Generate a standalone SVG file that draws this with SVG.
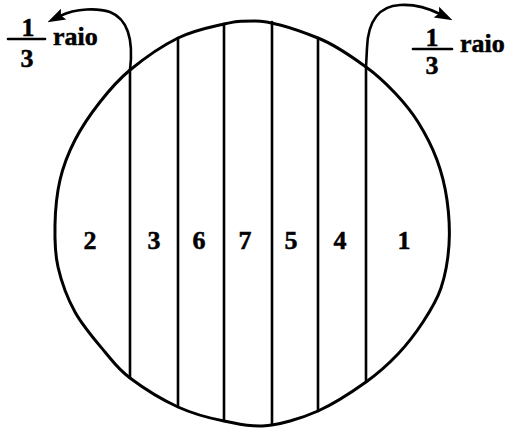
<svg xmlns="http://www.w3.org/2000/svg" width="505" height="428" viewBox="0 0 505 428">
<style>
.ln{fill:none;stroke:#000;stroke-width:2.6;stroke-linecap:round;stroke-linejoin:round}
.ol{fill:none;stroke:#000;stroke-width:3;stroke-linejoin:round}
.t{font-family:"Liberation Serif","Times New Roman",serif;font-weight:bold;font-size:26px;fill:#000;stroke:#000;stroke-width:0.5}
.c{text-anchor:middle}
</style>
<defs>
<marker id="ah" viewBox="0 0 18 14" markerWidth="18" markerHeight="14" refX="4" refY="7" orient="auto" markerUnits="userSpaceOnUse">
<path d="M0,1 L18,7 L0,13 L3,7 z" fill="#000"/>
</marker>
</defs>
<rect width="505" height="428" fill="#fff"/>
<g id="outline">
<path class="ol" d="M255,21 C271,21 298.8,30.3 318,38 C337.2,45.7 353.2,57.8 366,67 C378.8,76.2 386.3,83.8 395,93 C403.7,102.2 411,110.8 418,122 C425,133.2 432.2,147 437,160 C441.8,173 445,185.8 447,200 C449,214.2 450,230.3 449,245 C448,259.7 445.3,275.2 441,288 C436.7,300.8 430.2,311 423,322 C415.8,333 407.5,344 398,354 C388.5,364 379.3,372.5 366,382 C352.7,391.5 334,403.8 318,411 C302,418.2 278,425.5 262,426 C246,426.5 239.3,424 224,421 C208.7,418 193.7,414.2 178,407 C162.3,399.8 142.2,387.2 130,378 C117.8,368.8 114.2,363 105,352 C95.8,341 82.8,326.2 75,312 C67.2,297.8 61.3,281.5 58,267 C54.7,252.5 54.7,239.5 55,225 C55.3,210.5 56.7,194.2 60,180 C63.3,165.8 68.3,153 75,140 C81.7,127 90.8,113.7 100,102 C109.2,90.3 117,80.7 130,70 C143,59.3 162.3,45.7 178,38 C193.7,30.3 211.8,26.8 224,24 C236.2,21.2 239,21 255,21 Z"/>
</g>
<g id="connectors">
<line class="ln" x1="130" y1="70" x2="130" y2="378"/>
<line class="ln" x1="178" y1="38" x2="178" y2="407"/>
<line class="ln" x1="224" y1="24" x2="224" y2="421"/>
<line class="ln" x1="272" y1="22" x2="272" y2="425"/>
<line class="ln" x1="318" y1="38" x2="318" y2="411"/>
<line class="ln" x1="366" y1="67" x2="366" y2="382"/>
<path class="ln" d="M130,70 C133,45 130,20 110,12 C98,8 76,8 60,16" marker-end="url(#ah)"/>
<path class="ln" d="M366,67 L367,48 C368,20 380,6 400,5 C415,4 428,8 440,14" marker-end="url(#ah)"/>
</g>
<g id="label-left">
<text class="t c" x="28" y="36">1</text>
<line class="ln" x1="8" y1="39" x2="45" y2="39"/>
<text class="t c" x="27" y="67">3</text>
<text class="t" x="53" y="45">raio</text>
</g>
<g id="label-right">
<text class="t c" x="432" y="46">1</text>
<line class="ln" x1="413" y1="49" x2="452" y2="49"/>
<text class="t c" x="432" y="74">3</text>
<text class="t" x="460" y="52">raio</text>
</g>
<g id="slice-2"><text class="t c" x="90" y="249">2</text></g>
<g id="slice-3"><text class="t c" x="154" y="249">3</text></g>
<g id="slice-6"><text class="t c" x="199" y="249">6</text></g>
<g id="slice-7"><text class="t c" x="245" y="249">7</text></g>
<g id="slice-5"><text class="t c" x="291" y="249">5</text></g>
<g id="slice-4"><text class="t c" x="340" y="249">4</text></g>
<g id="slice-1"><text class="t c" x="404" y="249">1</text></g>
</svg>
